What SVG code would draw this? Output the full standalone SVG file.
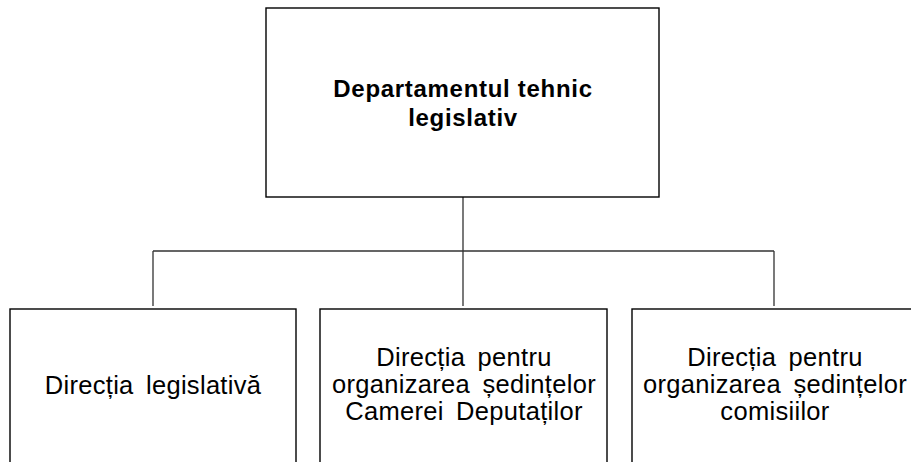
<svg xmlns="http://www.w3.org/2000/svg" width="911" height="462" viewBox="0 0 911 462">
<style>
.box{fill:#fff;stroke:#000;stroke-width:1.4}
.ln{fill:none;stroke:#333;stroke-width:1.3}
.t{font-family:"Liberation Sans",Arial,sans-serif;font-size:25.5px;fill:#000;text-anchor:middle;letter-spacing:0.3px;word-spacing:5px}
.tb{font-family:"Liberation Sans",Arial,sans-serif;font-size:24px;font-weight:bold;fill:#000;text-anchor:middle;letter-spacing:0.7px}
</style>
<rect width="911" height="462" fill="#fff"/>
<g id="connectors">
<path class="ln" d="M463 197V251M153 251H774M153 251V306M463 251V306M774 251V306"/>
</g>
<g id="top">
<rect class="box" x="266" y="8" width="393" height="189"/>
<text class="tb" x="463" y="97">Departamentul tehnic</text>
<text class="tb" x="463" y="126">legislativ</text>
</g>
<g id="n1">
<rect class="box" x="10" y="309" width="286" height="170"/>
<text class="t" x="153" y="394">Direcția legislativă</text>
</g>
<g id="n2">
<rect class="box" x="320" y="309" width="287" height="170"/>
<text class="t" x="464" y="366">Direcția pentru</text>
<text class="t" x="464" y="393">organizarea ședințelor</text>
<text class="t" x="464" y="420">Camerei Deputaților</text>
</g>
<g id="n3">
<rect class="box" x="632" y="309" width="300" height="170"/>
<text class="t" x="775" y="366">Direcția pentru</text>
<text class="t" x="775" y="393">organizarea ședințelor</text>
<text class="t" x="775" y="420">comisiilor</text>
</g>
</svg>
